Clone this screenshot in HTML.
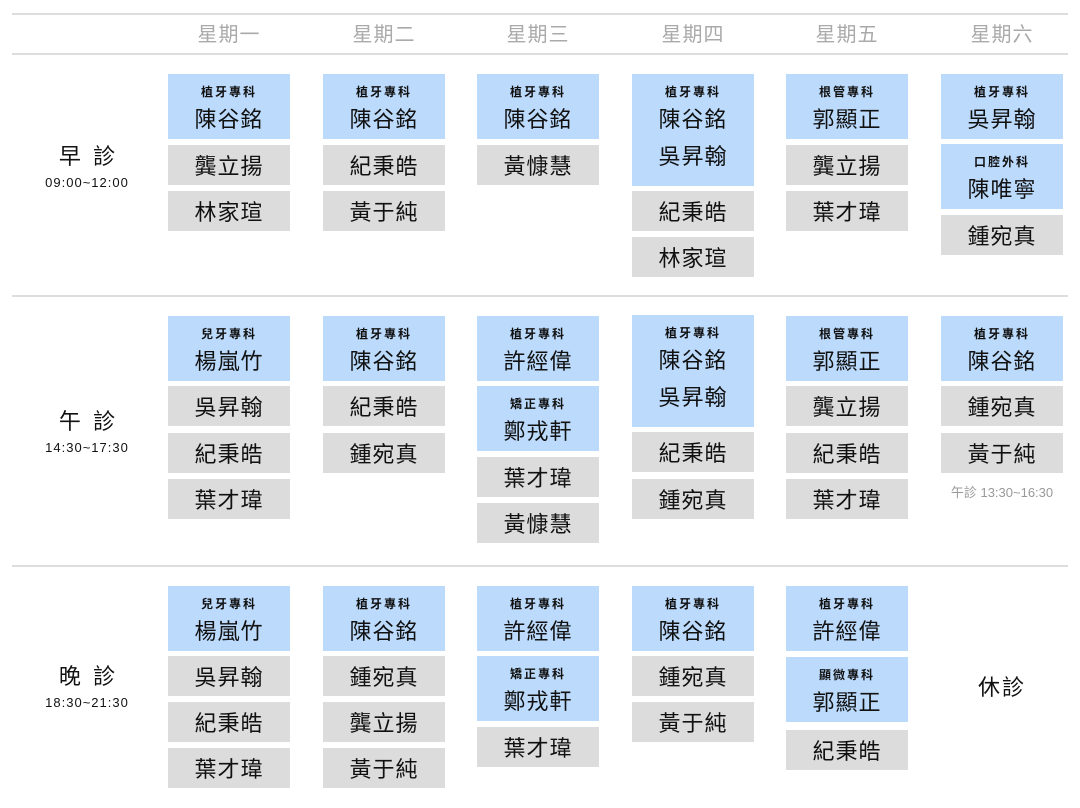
<!DOCTYPE html>
<html><head><meta charset="utf-8"><style>
body{margin:0;width:1080px;height:808px;background:#fff;position:relative;overflow:hidden;font-family:"Liberation Sans","Noto Sans CJK TC",sans-serif;color:#111}
.ln{position:absolute;left:12px;width:1056px;height:2px;background:#ddd}
.h{position:absolute;top:21px;width:122px;text-align:center;font-size:20px;color:#aaa;line-height:28px;letter-spacing:1px}
.b,.g{position:absolute;width:122px;text-align:center;box-sizing:border-box}
.b{background:#bbdafc;padding-top:11px}
.g{background:#dcdcdc;height:40px;line-height:43px;font-size:22px;letter-spacing:1px}
.l{font-size:12px;font-weight:bold;line-height:14px;letter-spacing:2px}
.n{font-size:22px;line-height:37px;letter-spacing:1px;padding-top:2px}
.n+.n{padding-top:0}
.r{position:absolute;left:12px;width:150px;text-align:center}
.r .t{font-size:22px;line-height:28px;padding-top:2px}
.r .s{font-size:13px;line-height:18px;letter-spacing:1px;padding-top:3px}
</style></head><body>
<div class="ln" style="top:13px"></div>
<div class="ln" style="top:53px"></div>
<div class="ln" style="top:295px"></div>
<div class="ln" style="top:565px"></div>
<div class="h" style="left:168px">星期一</div>
<div class="h" style="left:323px">星期二</div>
<div class="h" style="left:477px">星期三</div>
<div class="h" style="left:632px">星期四</div>
<div class="h" style="left:786px">星期五</div>
<div class="h" style="left:941px">星期六</div>

<div class="r" style="top:141px"><div class="t">早&nbsp;&nbsp;診</div><div class="s">09:00~12:00</div></div>
<div class="r" style="top:406px"><div class="t">午&nbsp;&nbsp;診</div><div class="s">14:30~17:30</div></div>
<div class="r" style="top:661px"><div class="t">晚&nbsp;&nbsp;診</div><div class="s">18:30~21:30</div></div>

<!-- Morning -->
<div class="b" style="left:168px;top:74px;height:65px"><div class="l">植牙專科</div><div class="n">陳谷銘</div></div>
<div class="g" style="left:168px;top:145px">龔立揚</div>
<div class="g" style="left:168px;top:191px">林家瑄</div>

<div class="b" style="left:323px;top:74px;height:65px"><div class="l">植牙專科</div><div class="n">陳谷銘</div></div>
<div class="g" style="left:323px;top:145px">紀秉皓</div>
<div class="g" style="left:323px;top:191px">黃于純</div>

<div class="b" style="left:477px;top:74px;height:65px"><div class="l">植牙專科</div><div class="n">陳谷銘</div></div>
<div class="g" style="left:477px;top:145px">黃慷慧</div>

<div class="b" style="left:632px;top:74px;height:112px"><div class="l">植牙專科</div><div class="n">陳谷銘</div><div class="n">吳昇翰</div></div>
<div class="g" style="left:632px;top:191px">紀秉皓</div>
<div class="g" style="left:632px;top:237px">林家瑄</div>

<div class="b" style="left:786px;top:74px;height:65px"><div class="l">根管專科</div><div class="n">郭顯正</div></div>
<div class="g" style="left:786px;top:145px">龔立揚</div>
<div class="g" style="left:786px;top:191px">葉才瑋</div>

<div class="b" style="left:941px;top:74px;height:65px"><div class="l">植牙專科</div><div class="n">吳昇翰</div></div>
<div class="b" style="left:941px;top:144px;height:65px"><div class="l">口腔外科</div><div class="n">陳唯寧</div></div>
<div class="g" style="left:941px;top:215px">鍾宛真</div>

<!-- Afternoon -->
<div class="b" style="left:168px;top:316px;height:65px"><div class="l">兒牙專科</div><div class="n">楊嵐竹</div></div>
<div class="g" style="left:168px;top:386px">吳昇翰</div>
<div class="g" style="left:168px;top:433px">紀秉皓</div>
<div class="g" style="left:168px;top:479px">葉才瑋</div>

<div class="b" style="left:323px;top:316px;height:65px"><div class="l">植牙專科</div><div class="n">陳谷銘</div></div>
<div class="g" style="left:323px;top:386px">紀秉皓</div>
<div class="g" style="left:323px;top:433px">鍾宛真</div>

<div class="b" style="left:477px;top:316px;height:65px"><div class="l">植牙專科</div><div class="n">許經偉</div></div>
<div class="b" style="left:477px;top:386px;height:65px"><div class="l">矯正專科</div><div class="n">鄭戎軒</div></div>
<div class="g" style="left:477px;top:457px">葉才瑋</div>
<div class="g" style="left:477px;top:503px">黃慷慧</div>

<div class="b" style="left:632px;top:315px;height:112px"><div class="l">植牙專科</div><div class="n">陳谷銘</div><div class="n">吳昇翰</div></div>
<div class="g" style="left:632px;top:432px">紀秉皓</div>
<div class="g" style="left:632px;top:479px">鍾宛真</div>

<div class="b" style="left:786px;top:316px;height:65px"><div class="l">根管專科</div><div class="n">郭顯正</div></div>
<div class="g" style="left:786px;top:386px">龔立揚</div>
<div class="g" style="left:786px;top:433px">紀秉皓</div>
<div class="g" style="left:786px;top:479px">葉才瑋</div>

<div class="b" style="left:941px;top:316px;height:65px"><div class="l">植牙專科</div><div class="n">陳谷銘</div></div>
<div class="g" style="left:941px;top:386px">鍾宛真</div>
<div class="g" style="left:941px;top:433px">黃于純</div>
<div style="position:absolute;left:935px;top:485px;width:134px;text-align:center;font-size:13px;color:#999;line-height:16px">午診 13:30~16:30</div>

<!-- Evening -->
<div class="b" style="left:168px;top:586px;height:65px"><div class="l">兒牙專科</div><div class="n">楊嵐竹</div></div>
<div class="g" style="left:168px;top:656px">吳昇翰</div>
<div class="g" style="left:168px;top:702px">紀秉皓</div>
<div class="g" style="left:168px;top:748px">葉才瑋</div>

<div class="b" style="left:323px;top:586px;height:65px"><div class="l">植牙專科</div><div class="n">陳谷銘</div></div>
<div class="g" style="left:323px;top:656px">鍾宛真</div>
<div class="g" style="left:323px;top:702px">龔立揚</div>
<div class="g" style="left:323px;top:748px">黃于純</div>

<div class="b" style="left:477px;top:586px;height:65px"><div class="l">植牙專科</div><div class="n">許經偉</div></div>
<div class="b" style="left:477px;top:656px;height:65px"><div class="l">矯正專科</div><div class="n">鄭戎軒</div></div>
<div class="g" style="left:477px;top:727px">葉才瑋</div>

<div class="b" style="left:632px;top:586px;height:65px"><div class="l">植牙專科</div><div class="n">陳谷銘</div></div>
<div class="g" style="left:632px;top:656px">鍾宛真</div>
<div class="g" style="left:632px;top:702px">黃于純</div>

<div class="b" style="left:786px;top:586px;height:65px"><div class="l">植牙專科</div><div class="n">許經偉</div></div>
<div class="b" style="left:786px;top:657px;height:65px"><div class="l">顯微專科</div><div class="n">郭顯正</div></div>
<div class="g" style="left:786px;top:730px">紀秉皓</div>

<div style="position:absolute;left:941px;top:673px;width:122px;text-align:center;font-size:22px;line-height:30px;letter-spacing:2px">休診</div>
</body></html>
